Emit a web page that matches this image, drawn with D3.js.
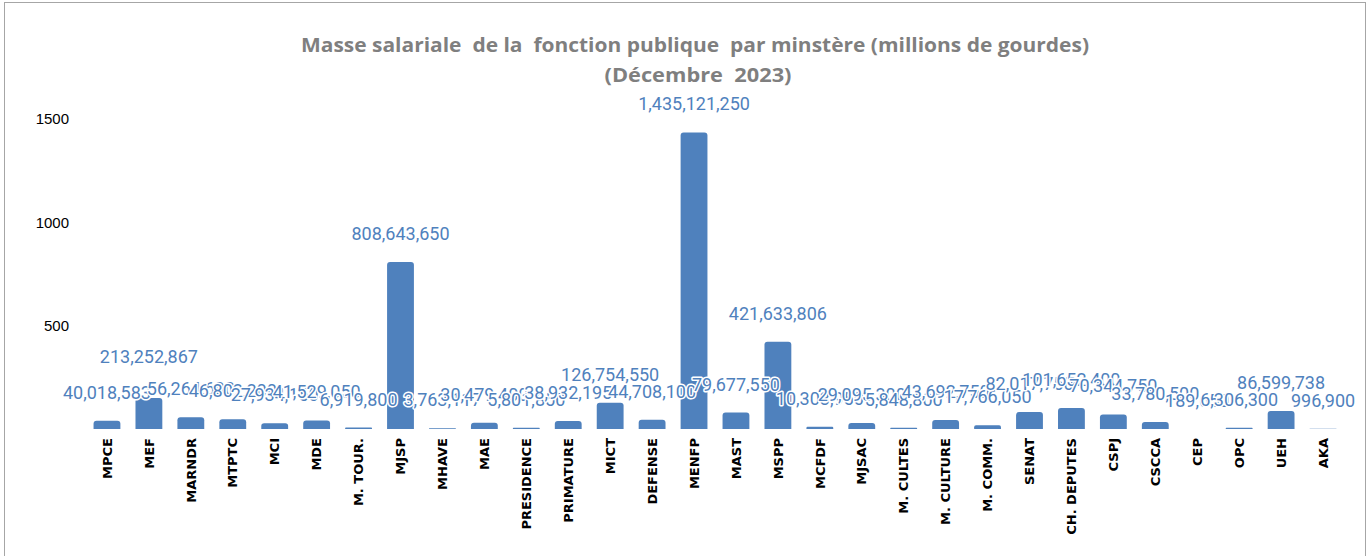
<!DOCTYPE html>
<html>
<head>
<meta charset="utf-8">
<script src="https://cdn.jsdelivr.net/npm/d3@7"></script>
<style>
  body { margin: 0; background: #fff; }
</style>
</head>
<body>
<div id="chart"></div>
<script>
// ministries (x axis)
const categories = ['MPCE', 'MEF', 'MARNDR', 'MTPTC', 'MCI', 'MDE', 'M. TOUR.', 'MJSP', 'MHAVE', 'MAE',
  'PRESIDENCE', 'PRIMATURE', 'MICT', 'DEFENSE', 'MENFP', 'MAST', 'MSPP', 'MCFDF', 'MJSAC', 'M. CULTES',
  'M. CULTURE', 'M. COMM.', 'SENAT', 'CH. DEPUTES', 'CSPJ', 'CSCCA', 'CEP', 'OPC', 'UEH', 'AKA'];
// bar heights in millions of gourdes
const barValues = [40.0, 150, 56.3, 46.8, 27.9, 41.5, 6.9, 808.6, 3.8, 30.5,
  5.8, 38.9, 126.8, 44.7, 1435.1, 79.7, 421.6, 10.3, 29.1, 5.8,
  43.7, 17.8, 82.0, 101.7, 70.3, 33.8, 0.19, 6.3, 86.6, 1.0];
// data labels as shown (gourdes)
const dataLabels = ['40,018,583', '213,252,867', '56,264,600', '46,802,200', '27,934,150', '41,529,050', '6,919,800', '808,643,650', '3,763,117', '30,479,400',
  '5,801,850', '38,932,195', '126,754,550', '44,708,100', '1,435,121,250', '79,677,550', '421,633,806', '10,303,950', '29,095,300', '5,848,800',
  '43,692,750', '17,766,050', '82,017,750', '101,652,400', '70,344,750', '33,780,500', '189,650', '6,306,300', '86,599,738', '996,900'];
const yTicks = [500, 1000, 1500];
const titleLines = ['Masse salariale  de la  fonction publique  par minstère (millions de gourdes)', '(Décembre  2023)'];

const W = 1368, H = 556;
const margin = { top: 119, right: 24, bottom: 127, left: 86 };
const blue = '#4f81bd';

const svg = d3.select('#chart').append('svg')
  .attr('width', W)
  .attr('height', H);

// outer frame
svg.append('rect')
  .attr('x', 4.5).attr('y', 2.5)
  .attr('width', W - 7).attr('height', H + 10)
  .attr('fill', 'none')
  .attr('stroke', '#a6a6a6')
  .attr('stroke-width', 1);

const x = d3.scaleBand()
  .domain(categories)
  .range([margin.left, W - margin.right])
  .paddingInner(0.36)
  .paddingOuter(0.18);

const y = d3.scaleLinear()
  .domain([0, 1500])
  .range([H - margin.bottom, margin.top]);

// title (double spaces kept as in the original)
const titlePos = [{ x: 695, y: 52, len: 788 }, { x: 698, y: 82, len: 187 }];
titleLines.forEach(function(t, i) {
  svg.append('text')
    .attr('x', titlePos[i].x).attr('y', titlePos[i].y)
    .attr('text-anchor', 'middle')
    .attr('xml:space', 'preserve')
    .attr('textLength', titlePos[i].len)
    .attr('lengthAdjust', 'spacingAndGlyphs')
    .style('white-space', 'pre')
    .style('font-family', '"Liberation Sans Narrow", "Open Sans", sans-serif')
    .style('font-size', '20px')
    .style('font-weight', 'bold')
    .style('fill', '#7f7f7f')
    .text(t);
});

// y axis: labels only
const yAxis = svg.append('g')
  .attr('transform', 'translate(' + (margin.left - 17) + ',0)')
  .call(d3.axisLeft(y).tickValues(yTicks).tickFormat(d3.format('d')).tickSize(0).tickPadding(0));
yAxis.select('.domain').remove();
yAxis.selectAll('text')
  .style('font-family', '"Liberation Sans", Arial, sans-serif')
  .style('font-size', '15px')
  .style('fill', '#000');

// bars with rounded tops
const r = 3;
svg.append('g').selectAll('path')
  .data(barValues)
  .enter().append('path')
  .attr('d', function(d, i) {
    const x0 = x(categories[i]), w = x.bandwidth();
    const y0 = y(0), y1 = y(d);
    const rr = Math.min(r, (y0 - y1) / 2);
    return 'M' + x0 + ',' + y0 +
      'V' + (y1 + rr) +
      'Q' + x0 + ',' + y1 + ' ' + (x0 + rr) + ',' + y1 +
      'H' + (x0 + w - rr) +
      'Q' + (x0 + w) + ',' + y1 + ' ' + (x0 + w) + ',' + (y1 + rr) +
      'V' + y0 + 'Z';
  })
  .attr('fill', blue);

// data labels, placed at the height of their own value
svg.append('g').selectAll('text')
  .data(dataLabels)
  .enter().append('text')
  .attr('x', (d, i) => x(categories[i]) + x.bandwidth() / 2)
  .attr('y', d => y(+d.replace(/,/g, '') / 1e6) - 22)
  .attr('text-anchor', 'middle')
  .style('font-family', 'Roboto, sans-serif')
  .style('font-size', '18px')
  .style('fill', blue)
  .style('stroke', '#fff')
  .style('stroke-width', 3)
  .style('stroke-linejoin', 'round')
  .style('paint-order', 'stroke')
  .text(d => d);

// x axis labels, rotated
svg.append('g').selectAll('text')
  .data(categories)
  .enter().append('text')
  .attr('transform', d => 'translate(' + (x(d) + x.bandwidth() / 2) + ',438) rotate(-90)')
  .attr('text-anchor', 'end')
  .attr('dy', '0.36em')
  .style('font-family', '"DejaVu Sans", Verdana, sans-serif')
  .style('font-size', '13px')
  .style('font-weight', 'bold')
  .style('fill', '#000')
  .text(d => d);
</script>
</body>
</html>
